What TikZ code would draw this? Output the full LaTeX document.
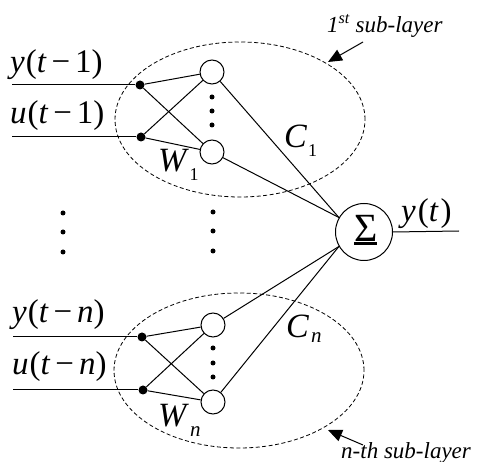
\documentclass[tikz,border=0pt]{standalone}
\usepackage{fontspec}
\setmainfont{Liberation Serif}
\usetikzlibrary{arrows.meta,shapes.geometric}
\newcommand\biglbl[2]{{\fontsize{33}{33}\selectfont\textit{#1}\kern1pt(\textit{t}\hspace{0.15em}−\hspace{0.15em}#2)}}
\tikzset{
  wire/.style={line width=1pt},
  neuron/.style={circle,draw,line width=1pt,minimum size=24pt,inner sep=0pt},
  jdot/.style={circle,fill,minimum size=9pt,inner sep=0pt},
  vdot/.style={circle,fill,minimum size=5pt,inner sep=0pt},
  layer/.style={ellipse,draw,dash pattern=on 4pt off 2.5pt,line width=0.8pt,minimum width=250pt,minimum height=155pt,inner sep=0pt},
  lbl/.style={anchor=base west,inner sep=0pt},
  note/.style={anchor=base west,inner sep=0pt,font=\fontsize{23}{23}\selectfont\itshape},
  pointer/.style={line width=1pt,-{Triangle[length=14pt,width=12pt]}}
}
\begin{document}
\begin{tikzpicture}[x=1pt,y=-1pt]
\path[use as bounding box] (0,0) rectangle (477,462);
% layers
\node[layer] (lay1) at (240,119.5) {};
\node[layer] (lay2) at (239,370.5) {};
% top group
\coordinate (iy1) at (12,85);
\coordinate (iu1) at (12,137);
\node[jdot] (dy1) at (140,85) {};
\node[jdot] (du1) at (141,137) {};
\node[neuron] (n11) at (212,72) {};
\node[neuron] (n12) at (212,152) {};
\node[vdot] (v11) at (212,97) {};
\node[vdot] (v12) at (212,111) {};
\node[vdot] (v13) at (212,125) {};
\node[lbl] (ly1) at (10,73) {\biglbl{y}{1}};
\node[lbl] (lu1) at (10,124) {\biglbl{u}{1}};
% bottom group
\coordinate (iy2) at (13,337);
\coordinate (iu2) at (13,390);
\node[jdot] (dy2) at (142,337) {};
\node[jdot] (du2) at (143,390) {};
\node[neuron] (n21) at (213,325) {};
\node[neuron] (n22) at (213,402) {};
\node[vdot] (v21) at (213,348) {};
\node[vdot] (v22) at (213,363) {};
\node[vdot] (v23) at (213,377) {};
\node[lbl] (ly2) at (12,323) {\biglbl{y}{\textit{n}}};
\node[lbl] (lu2) at (12,375) {\biglbl{u}{\textit{n}}};
% middle dots
\node[vdot] (m1) at (63,213) {};
\node[vdot] (m2) at (63,232) {};
\node[vdot] (m3) at (63,252) {};
\node[vdot] (m4) at (213,212) {};
\node[vdot] (m5) at (213,231) {};
\node[vdot] (m6) at (213,251) {};
% sum node
\node[circle,draw,line width=1pt,minimum size=57pt,inner sep=0pt] (sig) at (364,232) {};
\node[inner sep=0pt] (sigma) at (366,228) {\fontsize{40}{40}\selectfont Σ};
\draw[line width=2.8pt] ([xshift=0pt,yshift=-2.5pt]sigma.south west) coordinate (ul1) -- ([xshift=-1pt,yshift=-2.5pt]sigma.south east) coordinate (ul2);
\coordinate (out) at (459,231);
\draw[wire] (sig.east) -- (out);
\node[lbl] (lyt) at (401,222) {\fontsize{33}{33}\selectfont\textit{y}\kern2pt(\textit{t}\kern2pt)};
% wires
\draw[wire] (iy1) -- (dy1);
\draw[wire] (iu1) -- (du1);
\draw[wire] (dy1) -- (n11);
\draw[wire] (dy1) -- (n12);
\draw[wire] (du1) -- (n11);
\draw[wire] (du1) -- (n12);
\draw[wire] (iy2) -- (dy2);
\draw[wire] (iu2) -- (du2);
\draw[wire] (dy2) -- (n21);
\draw[wire] (dy2) -- (n22);
\draw[wire] (du2) -- (n21);
\draw[wire] (du2) -- (n22);
\draw[wire] (n11) -- (sig.150);
\draw[wire] (n12) -- (sig.150);
\draw[wire] (n21) -- (sig.210);
\draw[wire] (n22) -- (sig.210);
% weight labels
\node[lbl] (w1) at (158,172) {\fontsize{34}{34}\selectfont\textit{W}\kern0.5pt\raisebox{-9pt}{\fontsize{18}{18}\selectfont 1}};
\node[lbl] (c1) at (284,148) {\fontsize{34}{34}\selectfont\textit{C}\kern1pt\raisebox{-9pt}{\fontsize{18}{18}\selectfont 1}};
\node[lbl] (wn) at (158,427) {\fontsize{34}{34}\selectfont\textit{W}\kern1pt\raisebox{-10pt}{\fontsize{21}{21}\selectfont\textit{n}}};
\node[lbl] (cn) at (286,338) {\fontsize{34}{34}\selectfont\textit{C}\kern2pt\raisebox{-5pt}{\fontsize{21}{21}\selectfont\textit{n}}};
% sub-layer notes
\node[note] (t1) at (327,33) {1\textsuperscript{st} sub-layer};
\node[note] (t2) at (341,458) {n-th sub-layer};
\coordinate (a1s) at (363,42);
\coordinate (a1e) at (328,62);
\coordinate (a2s) at (363,445);
\coordinate (a2e) at (328,430);
\draw[pointer] (a1s) -- (a1e);
\draw[pointer] (a2s) -- (a2e);
\end{tikzpicture}
\end{document}
